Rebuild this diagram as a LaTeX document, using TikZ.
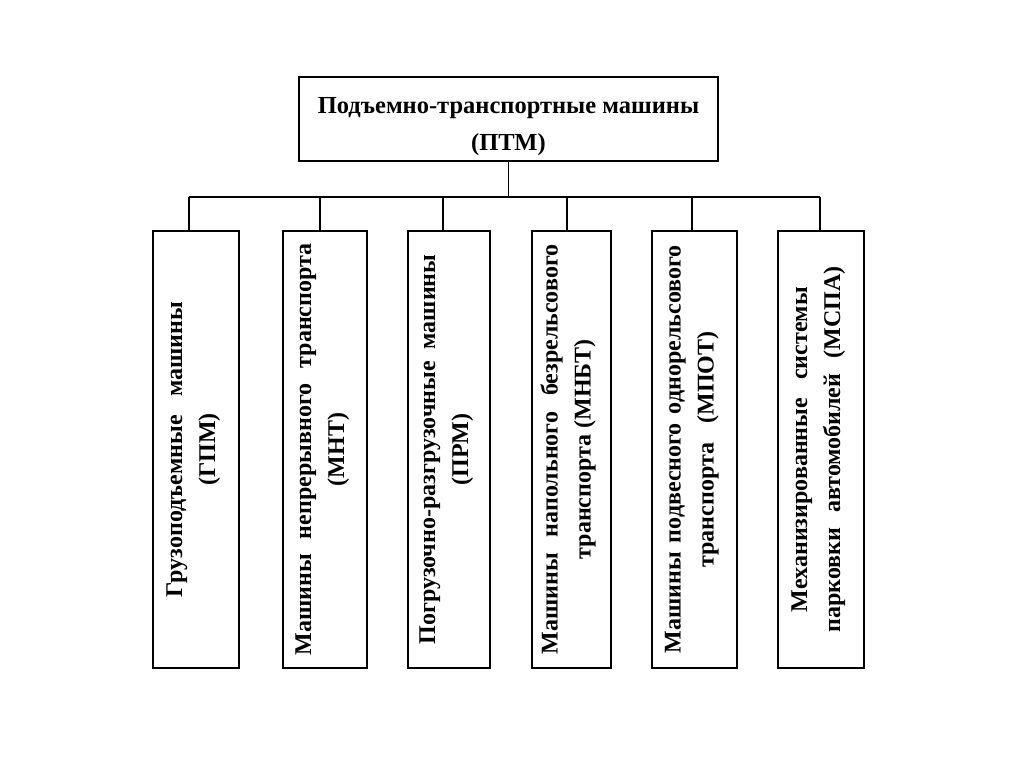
\documentclass[tikz,border=0pt]{standalone}
\usepackage{fontspec}
\setmainfont{Liberation Serif}
\usepackage{graphicx}
\newcommand{\vlab}[2]{\hspace*{-8pt}\rotatebox{90}{\fontsize{24}{33}\selectfont\bfseries\begin{tabular}{@{}c@{}}#1\\#2\end{tabular}}}
\begin{document}
\begin{tikzpicture}[x=1pt,y=-1pt,
  box/.style={draw, line width=1.2pt, inner sep=0pt},
  vbox/.style={box, minimum width=85pt, minimum height=437pt},
  conn/.style={line width=1.3pt},
  toplbl/.style={font=\fontsize{24.5}{37}\selectfont\bfseries, align=center}]
\useasboundingbox (0,0) rectangle (1024,767);
\node[box, minimum width=419pt, minimum height=84pt] (top) at (508.5,119) {};
\node[toplbl] (toptext) at ([yshift=-8pt]top.center) {Подъемно-транспортные машины\\(ПТМ)};
\node[vbox, minimum width=86pt] (b1) at (196,449.5)
  {\vlab{\makebox[295pt][s]{Грузоподъемные машины}}{(ГПМ)}};
\node[vbox, minimum width=84pt] (b2) at (325,449.5)
  {\vlab{\makebox[412pt][s]{Машины непрерывного транспорта}}{(МНТ)}};
\node[vbox, minimum width=82pt] (b3) at (449,449.5)
  {\vlab{\makebox[390pt][s]{Погрузочно-разгрузочные машины}}{(ПРМ)}};
\node[vbox, minimum width=79pt] (b4) at (571.5,449.5)
  {\vlab{\makebox[410pt][s]{Машины напольного безрельсового}}{транспорта (МНБТ)}};
\node[vbox, minimum width=85pt] (b5) at (694.5,449.5)
  {\vlab{\makebox[408pt][s]{Машины подвесного однорельсового}}{\makebox[236pt][s]{транспорта (МПОТ)}}};
\node[vbox, minimum width=86pt] (b6) at (821,449.5)
  {\vlab{\makebox[325pt][s]{Механизированные системы}}{\makebox[366pt][s]{парковки автомобилей (МСПА)}}};
\coordinate (h1) at (189,197);
\coordinate (h2) at (320,197);
\coordinate (h3) at (443,197);
\coordinate (h4) at (567,197);
\coordinate (h5) at (692,197);
\coordinate (h6) at (820,197);
\draw[conn] (top.south) -- (top.south |- h1);
\draw[conn] (h1) -- (h6);
\foreach \i in {1,...,6} {\draw[conn] (h\i) -- (h\i |- b\i.north);}
\end{tikzpicture}
\end{document}
